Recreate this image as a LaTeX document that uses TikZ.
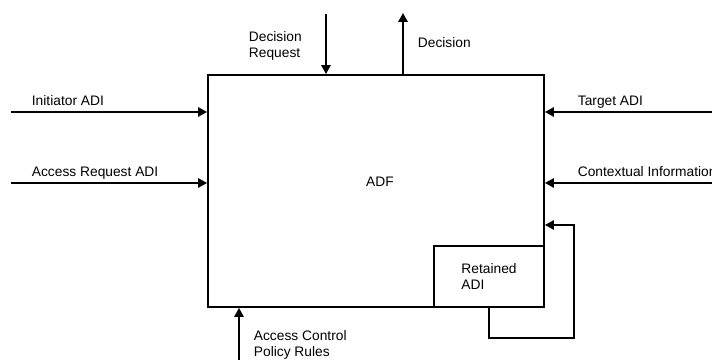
\documentclass[tikz,border=0pt]{standalone}
\usepackage{fontspec}
\setmainfont{Liberation Sans}
\usetikzlibrary{positioning}
\usetikzlibrary{calc}
\usetikzlibrary{arrows.meta}

\begin{document}
\begin{tikzpicture}[
	x=0.025cm, y=0.025cm,
	font=\fontsize{9.8}{11}\selectfont,
	line width=1.3pt,
	flow/.style={-{Triangle[length=6.4pt, width=6.7pt]}},
	tag/.style={inner sep=0pt, align=left}
]
\useasboundingbox (0,0) rectangle (712,360);

\node[
	draw,
	minimum width=8.4cm,
	minimum height=5.8cm
] (adf) at (376, 169) {};

\node[anchor=base] (adfLbl) at ($(adf.center) + (4, 4)$) {ADF};

\node[
	draw,
	align=left,
	inner sep=0pt,
	minimum width=2.75cm,
	minimum height=1.525cm,
	anchor=south east
] (retained) at (adf.south east) {Retained\\ADI};

% --- free ends

\coordinate (initIn) at (11, 248);
\coordinate (accessIn) at (11, 177);
\coordinate (targetIn) at (712, 248);
\coordinate (contextIn) at (712, 177);
\coordinate (requestIn) at (326, 346);
\coordinate (decisionOut) at (403, 347);
\coordinate (policyIn) at (239, 0);
\coordinate (loopLow) at (574, 22);
\coordinate (loopHigh) at (574, 135);

% --- left side

\draw[flow] (initIn) -- (initIn -| adf.west);
\node[tag, anchor=base west] (initLbl) at ($(initIn) + (20, 6)$) {Initiator ADI};

\draw[flow] (accessIn) -- (accessIn -| adf.west);
\node[tag, anchor=base west] (accessLbl) at ($(accessIn) + (20, 6)$) {Access Request ADI};

% --- right side

\draw[flow] (targetIn) -- (targetIn -| adf.east);
\node[tag, anchor=base west] (targetLbl) at ($(targetIn -| adf.east) + (32, 6)$) {Target ADI};

\draw[flow] (contextIn) -- (contextIn -| adf.east);
\node[tag, anchor=base west] (contextLbl) at ($(contextIn -| adf.east) + (32, 6)$) {Contextual Information};

% --- top

\draw[flow] (requestIn) -- (requestIn |- adf.north);
\node[tag, anchor=north west] (requestLbl) at ($(requestIn) + (-78, -17)$) {Decision\\Request};

\draw[flow] (decisionOut |- adf.north) -- (decisionOut);
\node[tag, anchor=base west] (decisionLbl) at ($(decisionOut) + (14, -35)$) {Decision};

% --- bottom

\draw[flow] (policyIn) -- (policyIn |- adf.south);
\node[tag, anchor=north west] (policyLbl) at ($(policyIn) + (14, 30)$) {Access Control\\Policy Rules};

\draw[flow] (retained.south) |- (loopLow) -- (loopHigh) -- (loopHigh -| adf.east);

\end{tikzpicture}
\end{document}
